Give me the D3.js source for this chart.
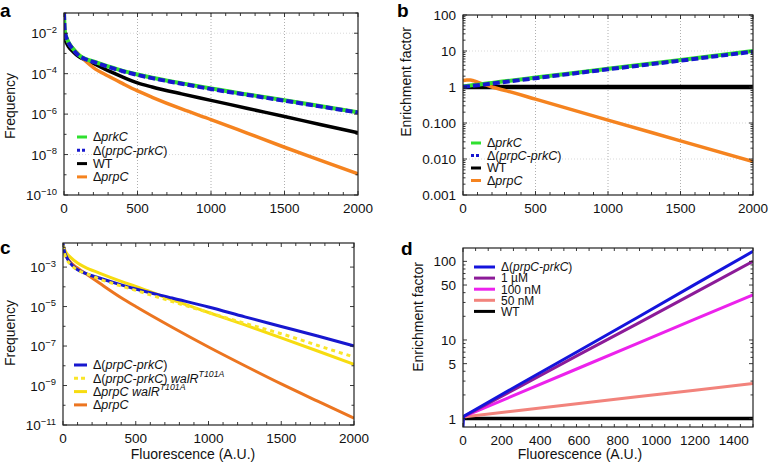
<!DOCTYPE html>
<html>
<head>
<meta charset="utf-8">
<script src="https://cdn.jsdelivr.net/npm/d3@7"></script>
<style>
  body { margin: 0; background: #fff; }
  svg { font-family: "Liberation Sans", Arial, Helvetica, sans-serif; }
</style>
</head>
<body>
<svg id="fig" width="769" height="470"></svg>
<script>
// ---- panel a: frequency vs fluorescence ----
const aX = [0, 5, 15, 30, 60, 100, 150, 200, 300, 400, 500, 600, 800, 1000, 1250, 1500, 1750, 2000];
const aPrkC = [0.1, 1.3e-2, 6.6e-3, 3.6e-3, 1.75e-3, 8.3e-4, 5.2e-4, 4e-4, 2.3e-4, 1.38e-4, 9.1e-5, 6.3e-5, 3.35e-5, 1.83e-5, 9.3e-6, 4.8e-6, 2.45e-6, 1.25e-6];
const aPrpCPrkC = [0.1, 1.25e-2, 6.3e-3, 3.4e-3, 1.65e-3, 7.9e-4, 5e-4, 3.8e-4, 2.2e-4, 1.32e-4, 8.7e-5, 6e-5, 3.2e-5, 1.74e-5, 8.9e-6, 4.6e-6, 2.35e-6, 1.2e-6];
const aWT = [6.3e-3, 5e-3, 3.5e-3, 2.2e-3, 1.25e-3, 7e-4, 4.6e-4, 3.2e-4, 1.4e-4, 6.8e-5, 3.5e-5, 2.2e-5, 1e-5, 4.8e-6, 1.9e-6, 7.6e-7, 3e-7, 1.2e-7];
const aPrpC = [0.1, 1.26e-2, 6.3e-3, 3.5e-3, 1.8e-3, 9e-4, 4e-4, 2e-4, 7.6e-5, 3.2e-5, 1.4e-5, 6.8e-6, 1.8e-6, 5.4e-7, 1.12e-7, 2.3e-8, 5e-9, 1.1e-9];

// ---- panel b: enrichment factor ----
const bX = [0, 25, 50, 75, 100, 150, 200, 300, 500, 1000, 1500, 2000];
const bPrkC = [1.04, 1.07, 1.1, 1.13, 1.16, 1.23, 1.3, 1.46, 1.83, 3.2, 5.6, 10];
const bPrpCPrkC = [1.0, 1.03, 1.06, 1.09, 1.12, 1.18, 1.25, 1.4, 1.76, 3.1, 5.4, 9.6];
const bWT = [1, 1, 1, 1, 1, 1, 1, 1, 1, 1, 1, 1];
const bPrpC = [1.5, 1.57, 1.56, 1.48, 1.36, 1.16, 1.0, 0.78, 0.46, 0.12, 0.032, 0.0085];

// ---- panel c: walR T101A ----
const cX = [0, 10, 25, 50, 100, 150, 250, 400, 500, 750, 1000, 1250, 1500, 1750, 2000];
const cPrpCPrkC = [1.6e-2, 6.3e-3, 3.2e-3, 1.6e-3, 7.4e-4, 5e-4, 2.8e-4, 1.26e-4, 7.8e-5, 2.7e-5, 9.5e-6, 3e-6, 9.8e-7, 3.2e-7, 1.02e-7];
const cPrpCPrkCWalR = [1.26e-2, 5e-3, 2.5e-3, 1.4e-3, 7e-4, 5e-4, 2.5e-4, 1.1e-4, 6.6e-5, 1.8e-5, 5e-6, 1.4e-6, 4.2e-7, 1.07e-7, 2.75e-8];
const cPrpCWalR = [1.26e-2, 8e-3, 5e-3, 3.2e-3, 1.6e-3, 1e-3, 5e-4, 1.9e-4, 1.05e-4, 2.2e-5, 5e-6, 1.17e-6, 2.6e-7, 5.6e-8, 1.17e-8];
const cPrpC = [1.26e-2, 6.3e-3, 3.2e-3, 1.8e-3, 9e-4, 5e-4, 1.55e-4, 2.8e-5, 1e-5, 8.9e-7, 8.9e-8, 1e-8, 1.2e-9, 1.6e-10, 2.2e-11];

// ---- panel d: enrichment with inducer ----
const dX = [0, 300, 600, 900, 1200, 1500];
const dBlueX = [0, 3, 300, 600, 900, 1200, 1500];
const dPrpCPrkC = [0.78, 1.07, 2.8, 7.3, 19.2, 51, 134];
const d1uM = [1.05, 2.6, 6.5, 16, 40, 100];
const d100nM = [1.05, 2.15, 4.4, 9.0, 18.4, 37.6];
const d50nM = [1.05, 1.28, 1.56, 1.9, 2.3, 2.8];
const dWT = [1, 1, 1, 1, 1, 1];

const xTicks2000 = [0, 500, 1000, 1500, 2000];
const xTicks1500 = [0, 200, 400, 600, 800, 1000, 1200, 1400];
const aYTicks = [-2, -4, -6, -8, -10];
const bYTicks = [100, 10, 1, 0.1, 0.01, 0.001];
const bYLabels = ['100', '10', '1', '0.100', '0.010', '0.001'];
const cYTicks = [-3, -5, -7, -9, -11];
const dYTicks = [100, 50, 10, 5, 1];

const C = {
  green: '#2fe02f', blue: '#1717cf', black: '#000', orange: '#f5831f',
  orangeC: '#ec7520', yellow: '#f7dc10', yellowD: '#f9e52a',
  dBlue: '#1414dc', purple: '#8c1b98', magenta: '#ec22ec', salmon: '#f2837c'
};

const zip = (xs, ys) => xs.map((x, i) => [x, ys[i]]);
const svg = d3.select('#fig');

// write rich text segments into a text node
function rich(textSel, segs) {
  let shifted = 0;
  segs.forEach((s) => {
    const t = textSel.append('tspan').text(s.t);
    if (s.i) t.attr('font-style', 'italic');
    if (s.sup) {
      t.attr('font-size', '0.7em').attr('dy', -5.5);
      shifted = 5.5;
    } else if (shifted) {
      t.attr('dy', shifted);
      shifted = 0;
    }
  });
}

function drawPanel(p) {
  const g = svg.append('g');
  const x = d3.scaleLinear().domain(p.xDomain).range([p.left, p.right]);
  const y = d3.scaleLog().domain(p.yDomain).range([p.bottom, p.top]);

  const clipId = 'clip-' + p.letter;
  svg.append('clipPath').attr('id', clipId)
    .append('rect')
    .attr('x', p.left).attr('y', p.top)
    .attr('width', p.right - p.left).attr('height', p.bottom - p.top);

  // grid
  if (p.grid) {
    g.selectAll('.vg').data(p.grid.x).join('line')
      .attr('x1', (d) => x(d)).attr('x2', (d) => x(d))
      .attr('y1', p.top).attr('y2', p.bottom)
      .attr('stroke', '#9a9a9a').attr('stroke-width', 0.8).attr('stroke-dasharray', '1,2');
    g.selectAll('.hg').data(p.grid.y).join('line')
      .attr('x1', p.left).attr('x2', p.right)
      .attr('y1', (d) => y(d)).attr('y2', (d) => y(d))
      .attr('stroke', '#cfcfcf').attr('stroke-width', 0.8).attr('stroke-dasharray', '1,2');
  }

  // series
  const line = d3.line().x((d) => x(d[0])).y((d) => y(d[1])).curve(p.curve || d3.curveMonotoneX);
  const lines = g.append('g').attr('clip-path', `url(#${clipId})`);
  p.series.forEach((s) => {
    lines.append('path')
      .attr('d', line(zip(s.x, s.y)))
      .attr('fill', 'none')
      .attr('stroke', s.color)
      .attr('stroke-width', s.width || 3)
      .attr('stroke-dasharray', s.dash || null);
  });

  // ticks (inward, top/bottom/left/right)
  const tk = g.append('g').attr('stroke', '#222').attr('stroke-width', 0.9);
  p.xMinor.forEach((v) => {
    const len = p.xMajor.includes(v) ? 4 : 3;
    tk.append('line').attr('x1', x(v)).attr('x2', x(v)).attr('y1', p.bottom).attr('y2', p.bottom - len);
    tk.append('line').attr('x1', x(v)).attr('x2', x(v)).attr('y1', p.top).attr('y2', p.top + len);
  });
  p.yMinor.forEach((v) => {
    const len = p.yMajorVals.includes(v) ? 4 : 2.5;
    tk.append('line').attr('x1', p.left).attr('x2', p.left + len).attr('y1', y(v)).attr('y2', y(v));
    tk.append('line').attr('x1', p.right).attr('x2', p.right - len).attr('y1', y(v)).attr('y2', y(v));
  });

  // frame
  g.append('rect')
    .attr('x', p.left).attr('y', p.top)
    .attr('width', p.right - p.left).attr('height', p.bottom - p.top)
    .attr('fill', 'none').attr('stroke', '#222').attr('stroke-width', 1.2);

  // tick labels
  g.selectAll('.xl').data(p.xMajor).join('text')
    .attr('x', (d) => x(d)).attr('y', p.bottom + 17.5)
    .attr('text-anchor', 'middle').attr('font-size', 13.5).attr('fill', '#111')
    .text((d) => d);
  p.yMajorVals.forEach((v, i) => {
    const t = g.append('text')
      .attr('x', p.left - 7).attr('y', y(v) + 5)
      .attr('text-anchor', 'end').attr('font-size', 13.5).attr('fill', '#111');
    rich(t, p.yLabel(v, i));
  });

  // axis titles
  g.append('text')
    .attr('transform', `translate(${p.yTitle[0]},${p.yTitle[1]}) rotate(-90)`)
    .attr('text-anchor', 'middle').attr('font-size', 14).attr('fill', '#111')
    .text(p.yTitle[2]);
  if (p.xTitle) {
    g.append('text')
      .attr('x', p.xTitle[0]).attr('y', p.xTitle[1])
      .attr('text-anchor', 'middle').attr('font-size', 14).attr('fill', '#111')
      .text('Fluorescence (A.U.)');
  }

  // panel letter
  g.append('text')
    .attr('x', p.letterPos[0]).attr('y', p.letterPos[1])
    .attr('font-size', 19).attr('font-weight', 'bold')
    .text(p.letter);

  // legend
  const lg = g.append('g');
  p.legend.items.forEach((it, i) => {
    const yy = p.legend.y + i * p.legend.dy;
    lg.append('line')
      .attr('x1', p.legend.x).attr('x2', p.legend.x + p.legend.len)
      .attr('y1', yy).attr('y2', yy)
      .attr('stroke', it.color).attr('stroke-width', it.width || 3)
      .attr('stroke-dasharray', it.dash || null);
    const t = lg.append('text')
      .attr('x', p.legend.x + p.legend.len + 6).attr('y', yy + 4.3)
      .attr('font-size', p.legend.size || 12.5).attr('fill', '#111');
    rich(t, it.label);
  });
}

const range = (a, b, s) => d3.range(a, b + s / 2, s);
const decades = (lo, hi) => d3.range(lo, hi + 1).map((e) => Math.pow(10, e));
const logMinor = (lo, hi) => d3.range(lo, hi).flatMap((e) => d3.range(1, 10).map((k) => k * Math.pow(10, e))).concat([Math.pow(10, hi)]);
const powLabel = (v) => [{ t: '10' }, { t: '\u2212' + Math.round(-Math.log10(v)), sup: true }];

const L = {
  prkC: [{ t: '\u0394' }, { t: 'prkC', i: true }],
  prpCprkC: [{ t: '\u0394(' }, { t: 'prpC-prkC', i: true }, { t: ')' }],
  wt: [{ t: 'WT' }],
  prpC: [{ t: '\u0394' }, { t: 'prpC', i: true }],
  prpCprkCwalR: [{ t: '\u0394(' }, { t: 'prpC-prkC', i: true }, { t: ') ' }, { t: 'walR', i: true }, { t: 'T101A', i: true, sup: true }],
  prpCwalR: [{ t: '\u0394' }, { t: 'prpC walR', i: true }, { t: 'T101A', i: true, sup: true }]
};

// a
drawPanel({
  letter: 'a', letterPos: [0, 17],
  left: 64, right: 358, top: 13, bottom: 195,
  xDomain: [0, 2000], yDomain: [1e-10, 1e-1],
  xMajor: xTicks2000, xMinor: range(0, 2000, 100),
  yMajorVals: aYTicks.map((e) => Math.pow(10, e)), yMinor: decades(-10, -1),
  yLabel: powLabel,
  grid: { x: [500, 1000, 1500], y: [1e-2, 1e-4, 1e-6, 1e-8] },
  yTitle: [15, 106, 'Frequency'],
  series: [
    { x: aX, y: aWT, color: C.black, width: 3.5 },
    { x: aX, y: aPrpC, color: C.orange, width: 3.5 },
    { x: aX, y: aPrkC, color: C.green, width: 4 },
    { x: aX, y: aPrpCPrkC, color: C.blue, width: 4, dash: '7,3' }
  ],
  legend: {
    x: 77, y: 137, dy: 13.3, len: 10,
    items: [
      { label: L.prkC, color: C.green },
      { label: L.prpCprkC, color: C.blue, dash: '3,2' },
      { label: L.wt, color: C.black },
      { label: L.prpC, color: C.orange }
    ]
  }
});

// b
drawPanel({
  letter: 'b', letterPos: [397, 17],
  left: 463, right: 753, top: 15, bottom: 195,
  xDomain: [0, 2000], yDomain: [0.001, 100],
  xMajor: xTicks2000, xMinor: range(0, 2000, 100),
  yMajorVals: bYTicks, yMinor: logMinor(-3, 2),
  yLabel: (v, i) => [{ t: bYLabels[i] }],
  grid: { x: [500, 1000, 1500], y: [10, 0.1, 0.01] },
  yTitle: [411, 82, 'Enrichment factor'],
  series: [
    { x: bX, y: bWT, color: C.black, width: 4.5 },
    { x: bX, y: bPrpC, color: C.orange, width: 3.5 },
    { x: bX, y: bPrkC, color: C.green, width: 4 },
    { x: bX, y: bPrpCPrkC, color: C.blue, width: 4, dash: '7,3' }
  ],
  legend: {
    x: 471, y: 143, dy: 12.5, len: 10,
    items: [
      { label: L.prkC, color: C.green },
      { label: L.prpCprkC, color: C.blue, dash: '3,2' },
      { label: L.wt, color: C.black },
      { label: L.prpC, color: C.orange }
    ]
  }
});

// c
drawPanel({
  letter: 'c', letterPos: [0, 254],
  left: 63, right: 354, top: 243, bottom: 425,
  xDomain: [0, 2000], yDomain: [1e-11, Math.pow(10, -1.78)],
  xMajor: xTicks2000, xMinor: range(0, 2000, 100),
  yMajorVals: cYTicks.map((e) => Math.pow(10, e)), yMinor: decades(-11, -2),
  yLabel: powLabel,
  grid: null,
  yTitle: [15, 333, 'Frequency'],
  xTitle: [193, 459],
  series: [
    { x: cX, y: cPrpC, color: C.orangeC, width: 3 },
    { x: cX, y: cPrpCWalR, color: C.yellow, width: 3 },
    { x: cX, y: cPrpCPrkC, color: C.blue, width: 3 },
    { x: cX, y: cPrpCPrkCWalR, color: C.yellowD, width: 3, dash: '4,4' }
  ],
  legend: {
    x: 74, y: 365, dy: 13.3, len: 13,
    items: [
      { label: L.prpCprkC, color: C.blue },
      { label: L.prpCprkCwalR, color: C.yellowD, dash: '4,3' },
      { label: L.prpCwalR, color: C.yellow },
      { label: L.prpC, color: C.orangeC }
    ]
  }
});

// d
drawPanel({
  letter: 'd', letterPos: [401, 255],
  left: 463, right: 753, top: 248, bottom: 427,
  xDomain: [0, 1500], yDomain: [Math.pow(10, -0.107), Math.pow(10, 2.17)],
  xMajor: xTicks1500, xMinor: range(0, 1500, 1500 / 23),
  yMajorVals: dYTicks, yMinor: logMinor(0, 2),
  yLabel: (v) => [{ t: String(v) }],
  grid: null,
  curve: d3.curveLinear,
  yTitle: [423, 317, 'Enrichment factor'],
  xTitle: [580, 459],
  series: [
    { x: dX, y: dWT, color: C.black, width: 3.5 },
    { x: dX, y: d50nM, color: C.salmon, width: 3 },
    { x: dX, y: d100nM, color: C.magenta, width: 3 },
    { x: dX, y: d1uM, color: C.purple, width: 3 },
    { x: dBlueX, y: dPrpCPrkC, color: C.dBlue, width: 3 }
  ],
  legend: {
    x: 474, y: 267, dy: 11.1, len: 21, size: 12,
    items: [
      { label: L.prpCprkC, color: C.dBlue },
      { label: [{ t: '1 \u00b5M' }], color: C.purple },
      { label: [{ t: '100 nM' }], color: C.magenta },
      { label: [{ t: '50 nM' }], color: C.salmon },
      { label: L.wt, color: C.black }
    ]
  }
});
</script>
</body>
</html>
